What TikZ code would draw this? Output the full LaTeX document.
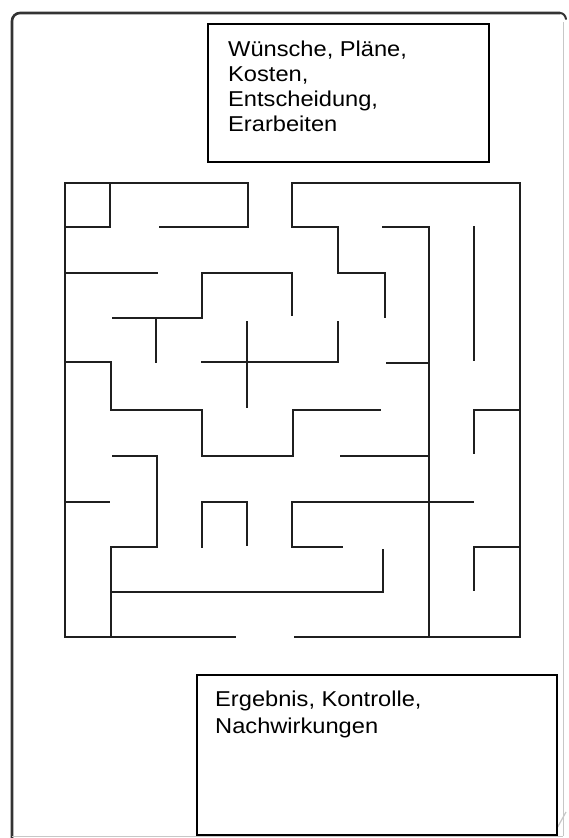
\documentclass[tikz,border=0pt]{standalone}
\usepackage{fontspec}
\setmainfont{Liberation Sans}
\newfontfamily\boxfont[FakeStretch=1.1]{Liberation Sans}
\begin{document}
\begin{tikzpicture}[x=1pt,y=-1pt,
  wall/.style={line width=2.8pt, draw=black!88, line cap=rect, line join=miter},
  frameline/.style={line width=2.6pt, draw=black!80, line cap=round},
  faint/.style={line width=1pt, draw=black!22},
  box/.style={draw=black, line width=1.5pt, fill=white, inner sep=0pt, anchor=north west},
  txt/.style={inner sep=0pt, anchor=north west, align=left, font=\boxfont\fontsize{21.5}{25}\selectfont}]
\useasboundingbox (0,0) rectangle (569,838);
% page frame
\draw[frameline, rounded corners=8pt] (12,838) -- (12,13) -- (560,13);
\draw[frameline, line width=2pt] (560,13) to[out=0,in=100] (566,19);
\draw[faint] (563,22) -- (563,836);
\draw[faint] (12,836) -- (563,836);
\draw[faint, line width=1.2pt] (556,830) -- (566,812);
% maze walls
\draw[wall] (160,227) -- (248,227) -- (248,183) -- (65,183) -- (65,637) -- (235,637);
\draw[wall] (385,317) -- (385,273) -- (338,273) -- (338,227) -- (292,227) -- (292,183) -- (520,183) -- (520,637) -- (295,637);
\draw[wall] (65,227) -- (110,227) -- (110,183);
\draw[wall] (65,273) -- (157,273);
\draw[wall] (113,318) -- (202,318) -- (202,273) -- (292,273) -- (292,315);
\draw[wall] (156,318) -- (156,362);
\draw[wall] (65,362) -- (111,362) -- (111,410) -- (202,410) -- (202,456) -- (293,456) -- (293,410) -- (380,410);
\draw[wall] (247,322) -- (247,407);
\draw[wall] (202,362) -- (338,362) -- (338,322);
\draw[wall] (383,227) -- (429,227) -- (429,637);
\draw[wall] (387,363) -- (429,363);
\draw[wall] (474,227) -- (474,360);
\draw[wall] (474,453) -- (474,410) -- (520,410);
\draw[wall] (341,456) -- (429,456);
\draw[wall] (342,547) -- (292,547) -- (292,502) -- (473,502);
\draw[wall] (383,550) -- (383,592) -- (111,592);
\draw[wall] (474,590) -- (474,547) -- (520,547);
\draw[wall] (113,456) -- (157,456) -- (157,547) -- (111,547) -- (111,637);
\draw[wall] (65,502) -- (109,502);
\draw[wall] (202,547) -- (202,502) -- (247,502) -- (247,545);
% text boxes
\node[box, minimum width=281pt, minimum height=138pt] (topbox) at (207,23) {};
\node[txt] (toptext) at (228,40.5) {Wünsche, Pläne,\\Kosten,\\Entscheidung,\\Erarbeiten};
\node[box, minimum width=360pt, minimum height=160pt] (botbox) at (196,674) {};
\node[txt, font=\boxfont\fontsize{21.5}{26.7}\selectfont] (bottext) at (215,690.6) {Ergebnis, Kontrolle,\\Nachwirkungen};
\end{tikzpicture}
\end{document}
